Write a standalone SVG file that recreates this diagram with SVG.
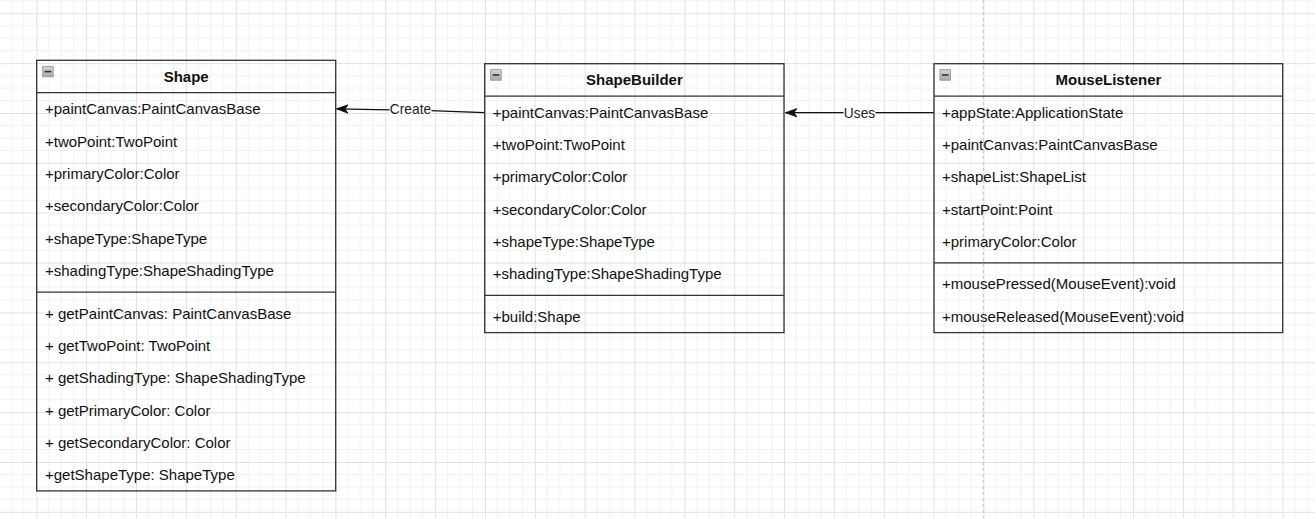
<svg xmlns="http://www.w3.org/2000/svg" width="1315" height="518" viewBox="0 0 1315 518">
<style>
  .box { fill: none; stroke: #333333; stroke-width: 1.3; }
  .sep { stroke: #333333; stroke-width: 1.3; }
  .t { font-family: "Liberation Sans", Arial, sans-serif; font-size: 15px; fill: #111111; }
  .h { font-family: "Liberation Sans", Arial, sans-serif; font-size: 15px; font-weight: bold; fill: #111111; text-anchor: middle; }
  .lbl { font-family: "Liberation Sans", Arial, sans-serif; font-size: 13.75px; fill: #222222; text-anchor: middle; }
  .edge { fill: none; stroke: #111111; stroke-width: 1.3; }
  .icon { fill: url(#ig); stroke: #8a8e96; stroke-width: 0.8; }
  .minus { stroke: #333333; stroke-width: 1.6; }
</style>
<defs>
  <pattern id="grid" patternUnits="userSpaceOnUse" x="36.3" y="13.3" width="49.85" height="49.85">
    <path d="M12.46 0V49.85M24.93 0V49.85M37.39 0V49.85M0 12.46H49.85M0 24.93H49.85M0 37.39H49.85" stroke="#f2f2f2" stroke-width="1" fill="none"/>
    <path d="M0.5 0V49.85M0 0.5H49.85" stroke="#e2e2e2" stroke-width="1" fill="none"/>
  </pattern>
  <linearGradient id="ig" x1="0" y1="0" x2="0" y2="1">
    <stop offset="0" stop-color="#d4d6da"/>
    <stop offset="1" stop-color="#a4a8b0"/>
  </linearGradient>
  <marker id="arr" viewBox="0 0 12 10" refX="11.5" refY="5" markerUnits="userSpaceOnUse" markerWidth="12" markerHeight="10" orient="auto">
    <path d="M0 0.8 L11.5 5 L0 9.2 L3 5 Z" fill="#111111" stroke="#111111" stroke-width="0.8"/>
  </marker>
</defs>
<rect x="0" y="0" width="1315" height="518" fill="#ffffff"/>
<rect x="0" y="0" width="1315" height="518" fill="url(#grid)"/>
<line x1="983.3" y1="0" x2="983.3" y2="518" stroke="#c4c4c4" stroke-width="1" stroke-dasharray="3 3"/>

<g id="connectors">
  <g id="edge-create">
    <polyline class="edge" points="484.7,112.6 430,110.6 336.5,108.8" marker-end="url(#arr)"/>
    <rect x="389.5" y="101" width="42" height="16" fill="#ffffff"/>
    <text class="lbl" x="410.5" y="113.8">Create</text>
  </g>
  <g id="edge-uses">
    <line class="edge" x1="934" y1="112.7" x2="785.5" y2="112.7" marker-end="url(#arr)"/>
    <rect x="843.5" y="105" width="32" height="16" fill="#ffffff"/>
    <text class="lbl" x="859.5" y="117.6">Uses</text>
  </g>
</g>

<g id="Shape">
  <rect class="box" x="36.7" y="60.3" width="299" height="430.6"/>
  <line class="sep" x1="36.7" y1="92.7" x2="335.7" y2="92.7"/>
  <line class="sep" x1="36.7" y1="292.1" x2="335.7" y2="292.1"/>
  <rect class="icon" x="42.7" y="66.3" width="10.5" height="10.5"/>
  <line class="minus" x1="44.7" y1="71.6" x2="51.2" y2="71.6"/>
  <text class="h" x="186.2" y="81.7">Shape</text>
  <text class="t" x="45" y="114.3">+paintCanvas:PaintCanvasBase</text>
  <text class="t" x="45" y="146.6">+twoPoint:TwoPoint</text>
  <text class="t" x="45" y="179">+primaryColor:Color</text>
  <text class="t" x="45" y="211.3">+secondaryColor:Color</text>
  <text class="t" x="45" y="243.7">+shapeType:ShapeType</text>
  <text class="t" x="45" y="276">+shadingType:ShapeShadingType</text>
  <text class="t" x="45" y="318.7">+ getPaintCanvas: PaintCanvasBase</text>
  <text class="t" x="45" y="351">+ getTwoPoint: TwoPoint</text>
  <text class="t" x="45" y="383.4">+ getShadingType: ShapeShadingType</text>
  <text class="t" x="45" y="415.7">+ getPrimaryColor: Color</text>
  <text class="t" x="45" y="448.1">+ getSecondaryColor: Color</text>
  <text class="t" x="45" y="480.4">+getShapeType: ShapeType</text>
</g>

<g id="ShapeBuilder">
  <rect class="box" x="484.7" y="63.7" width="299.3" height="268.9"/>
  <line class="sep" x1="484.7" y1="96.1" x2="784" y2="96.1"/>
  <line class="sep" x1="484.7" y1="295.3" x2="784" y2="295.3"/>
  <rect class="icon" x="490.7" y="69.7" width="10.5" height="10.5"/>
  <line class="minus" x1="492.7" y1="75" x2="499.2" y2="75"/>
  <text class="h" x="634.4" y="85.1">ShapeBuilder</text>
  <text class="t" x="492.7" y="117.7">+paintCanvas:PaintCanvasBase</text>
  <text class="t" x="492.7" y="150">+twoPoint:TwoPoint</text>
  <text class="t" x="492.7" y="182.4">+primaryColor:Color</text>
  <text class="t" x="492.7" y="214.7">+secondaryColor:Color</text>
  <text class="t" x="492.7" y="247.1">+shapeType:ShapeType</text>
  <text class="t" x="492.7" y="279.4">+shadingType:ShapeShadingType</text>
  <text class="t" x="492.7" y="321.9">+build:Shape</text>
</g>

<g id="MouseListener">
  <rect class="box" x="934" y="63.7" width="348.7" height="268.9"/>
  <line class="sep" x1="934" y1="96.1" x2="1282.7" y2="96.1"/>
  <line class="sep" x1="934" y1="262.9" x2="1282.7" y2="262.9"/>
  <rect class="icon" x="940" y="69.7" width="10.5" height="10.5"/>
  <line class="minus" x1="942" y1="75" x2="948.5" y2="75"/>
  <text class="h" x="1108.4" y="85.1">MouseListener</text>
  <text class="t" x="942" y="117.7">+appState:ApplicationState</text>
  <text class="t" x="942" y="150">+paintCanvas:PaintCanvasBase</text>
  <text class="t" x="942" y="182.4">+shapeList:ShapeList</text>
  <text class="t" x="942" y="214.7">+startPoint:Point</text>
  <text class="t" x="942" y="247.1">+primaryColor:Color</text>
  <text class="t" x="942" y="289.4">+mousePressed(MouseEvent):void</text>
  <text class="t" x="942" y="321.7">+mouseReleased(MouseEvent):void</text>
</g>
</svg>
